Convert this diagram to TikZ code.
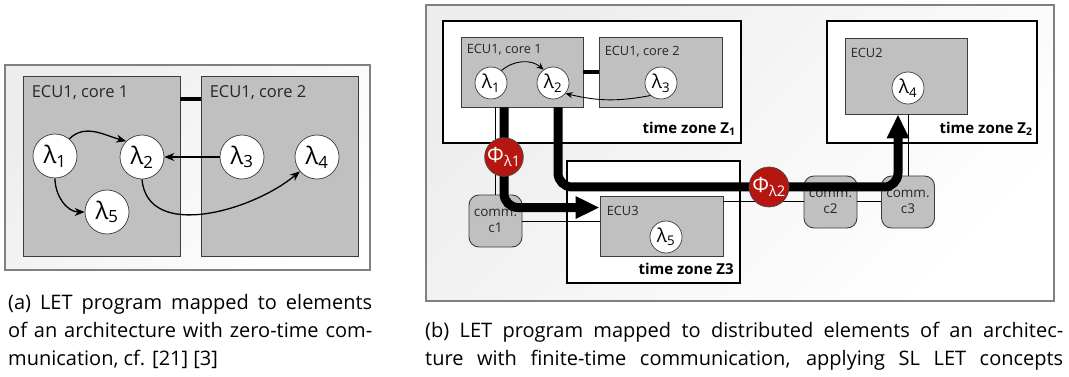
\documentclass[tikz,border=0pt]{standalone}
\usepackage{fontspec}
\setmainfont{Open Sans}
\usetikzlibrary{arrows.meta}
\definecolor{ecugray}{RGB}{192,192,192}
\definecolor{phired}{RGB}{181,22,16}
\definecolor{edgegray}{RGB}{60,60,60}
\begin{document}
\begin{tikzpicture}[x=1pt,y=1pt,
  frame/.style={draw=black!50,line width=1.2pt,top color=black!7,bottom color=white,shading angle=45,inner sep=0pt},
  zone/.style={draw=black,line width=1.6pt,fill=white,inner sep=0pt},
  ecu/.style={draw=edgegray,line width=0.9pt,fill=ecugray,inner sep=0pt},
  ecul/.style={anchor=west,inner sep=0pt,text=black!85},
  zonel/.style={anchor=east,inner sep=0pt,font=\fontsize{15}{17}\selectfont\bfseries},
  comm/.style={draw=edgegray,line width=0.9pt,fill=ecugray,rounded corners=10pt,minimum width=53pt,minimum height=52pt,inner sep=0pt,align=center,text=black!85,font=\fontsize{13.5}{16}\selectfont},
  lam/.style={circle,draw=edgegray,line width=0.7pt,fill=white,inner sep=0pt},
  phi/.style={circle,draw=black!70,line width=0.7pt,fill=phired,text=white,inner sep=0pt,font=\fontsize{21}{23}\selectfont},
  arr/.style={line width=1.3pt,-{Stealth[length=10pt,width=8pt]}},
  arrs/.style={line width=0.9pt,-{Stealth[length=7pt,width=6pt]}},
  link/.style={line width=1pt},
  flow/.style={line width=9pt,rounded corners=14pt,-{Triangle[length=24pt,width=21pt]}},
  capl/.style={anchor=base west,inner sep=0pt,font=\fontsize{20}{28}\selectfont}]
\useasboundingbox (0,0) rectangle (1069,-377);

\node[frame,minimum width=365pt,minimum height=205pt] (frameA) at (187.5,-167.5) {};
\node[ecu,minimum width=157pt,minimum height=180pt] (coreA1) at (101.5,-166) {};
\node[ecu,minimum width=157pt,minimum height=180pt] (coreA2) at (279.5,-166) {};
\draw[line width=4pt] ([yshift=-23pt]coreA1.north east) -- ([yshift=-23pt]coreA2.north west);
\node[ecul,font=\fontsize{16.5}{18}\selectfont] (coreA1t) at ([xshift=9pt,yshift=-17pt]coreA1.north west) {ECU1, core 1};
\node[ecul,font=\fontsize{16.5}{18}\selectfont] (coreA2t) at ([xshift=9pt,yshift=-17pt]coreA2.north west) {ECU1, core 2};

\node[lam,minimum size=44pt,font=\fontsize{24}{26}\selectfont] (lamA1) at (55,-156) {λ\textsubscript{1}};
\node[lam,minimum size=44pt,font=\fontsize{24}{26}\selectfont] (lamA2) at (142,-157) {λ\textsubscript{2}};
\node[lam,minimum size=44pt,font=\fontsize{24}{26}\selectfont] (lamA3) at (242,-157) {λ\textsubscript{3}};
\node[lam,minimum size=44pt,font=\fontsize{24}{26}\selectfont] (lamA4) at (317,-157) {λ\textsubscript{4}};
\node[lam,minimum size=44pt,font=\fontsize{24}{26}\selectfont] (lamA5) at (107,-212) {λ\textsubscript{5}};
\draw[arr] (lamA1.50) to[out=45,in=165] (lamA2.135);
\draw[arr] (lamA3) -- (lamA2);
\draw[arr] (lamA1.south) to[out=-90,in=180] (lamA5.west);
\draw[arr] (lamA2.south) to[out=-85,in=220] (lamA4.220);

\node[frame,minimum width=628pt,minimum height=296pt] (frameB) at (740,-153) {};
\node[zone,minimum width=298pt,minimum height=122pt] (zoneZ1) at (592,-82) {};
\node[zone,minimum width=210pt,minimum height=122pt] (zoneZ2) at (932,-82) {};
\node[zone,minimum width=173pt,minimum height=122pt] (zoneZ3) at (653.5,-222) {};
\node[zonel] (zoneZ1t) at ([xshift=-6pt,yshift=15pt]zoneZ1.south east) {time zone Z\textsubscript{1}};
\node[zonel] (zoneZ2t) at ([xshift=-5pt,yshift=15pt]zoneZ2.south east) {time zone Z\textsubscript{2}};
\node[zonel] (zoneZ3t) at ([xshift=-7pt,yshift=15pt]zoneZ3.south east) {time zone Z3};

\node[ecu,minimum width=122pt,minimum height=70pt] (ecuB1) at (522,-72) {};
\node[ecu,minimum width=123pt,minimum height=70pt] (ecuB2) at (660.5,-72) {};
\node[ecu,minimum width=123pt,minimum height=60pt] (ecuB3) at (661.5,-226) {};
\node[ecu,minimum width=122pt,minimum height=76pt] (ecuB4) at (906,-76) {};
\draw[line width=4pt] (ecuB1) -- (ecuB2);
\node[ecul,font=\fontsize{12.8}{14}\selectfont] (ecuB1t) at ([xshift=6pt,yshift=-13pt]ecuB1.north west) {ECU1, core 1};
\node[ecul,font=\fontsize{12.8}{14}\selectfont] (ecuB2t) at ([xshift=6pt,yshift=-15pt]ecuB2.north west) {ECU1, core 2};
\node[ecul,font=\fontsize{12.8}{14}\selectfont] (ecuB3t) at ([xshift=7pt,yshift=-15pt]ecuB3.north west) {ECU3};
\node[ecul,font=\fontsize{12.8}{14}\selectfont] (ecuB4t) at ([xshift=6pt,yshift=-15pt]ecuB4.north west) {ECU2};

\node[lam,minimum size=32pt,font=\fontsize{19}{21}\selectfont] (lamB1) at (491,-83) {λ\textsubscript{1}};
\node[lam,minimum size=32pt,font=\fontsize{19}{21}\selectfont] (lamB2) at (553,-83) {λ\textsubscript{2}};
\node[lam,minimum size=32pt,font=\fontsize{19}{21}\selectfont] (lamB3) at (661,-83) {λ\textsubscript{3}};
\node[lam,minimum size=32pt,font=\fontsize{19}{21}\selectfont] (lamB4) at (908,-88) {λ\textsubscript{4}};
\node[lam,minimum size=32pt,font=\fontsize{19}{21}\selectfont] (lamB5) at (666,-237) {λ\textsubscript{5}};
\draw[arrs] (lamB1.50) to[out=40,in=140] (lamB2.125);
\draw[arrs] (lamB3.230) to[bend left=12] (lamB2.-40);

\node[comm] (commC1) at (495.5,-221) {comm.\\c1};
\node[comm] (commC2) at (830.5,-202) {comm.\\c2};
\node[comm] (commC3) at (908,-202) {comm.\\c3};
\draw[link] (commC1.north) -- (commC1.north |- ecuB1.south);
\draw[link] (commC1.east) -- (commC1.east -| ecuB3.west);
\draw[link] (commC2.west -| ecuB3.east) -- (commC2.west);
\draw[link] (commC2.east) -- (commC3.west);
\draw[link] (commC3.north) -- (commC3.north |- ecuB4.south);

\coordinate (phiP1) at (504,-157);
\coordinate (phiP2) at (769,-187);
\draw[flow] (phiP1 |- ecuB1.south) |- ([yshift=-12pt]ecuB3.north west);
\draw[flow] ([xshift=36pt]ecuB1.south) |- (phiP2) -| ([xshift=-8pt]ecuB4.south);
\node[phi,minimum size=38pt] (Phi1) at (phiP1) {Φ\textsubscript{λ1}};
\node[phi,minimum size=40pt] (Phi2) at (phiP2) {Φ\textsubscript{λ2}};

\node[capl] (capA1) at (8,-309) {\makebox[364pt][s]{(a) LET program mapped to elements}};
\node[capl] (capA2) at (8,-337) {\makebox[364pt][s]{of an architecture with zero-time com-}};
\node[capl] (capA3) at (8,-365) {munication, cf. [21] [3]};
\node[capl] (capB1) at (425,-337) {\makebox[638pt][s]{(b) LET program mapped to distributed elements of an architec-}};
\node[capl] (capB2) at (425,-365) {\makebox[638pt][s]{ture with finite-time communication, applying SL LET concepts}};
\end{tikzpicture}
\end{document}
